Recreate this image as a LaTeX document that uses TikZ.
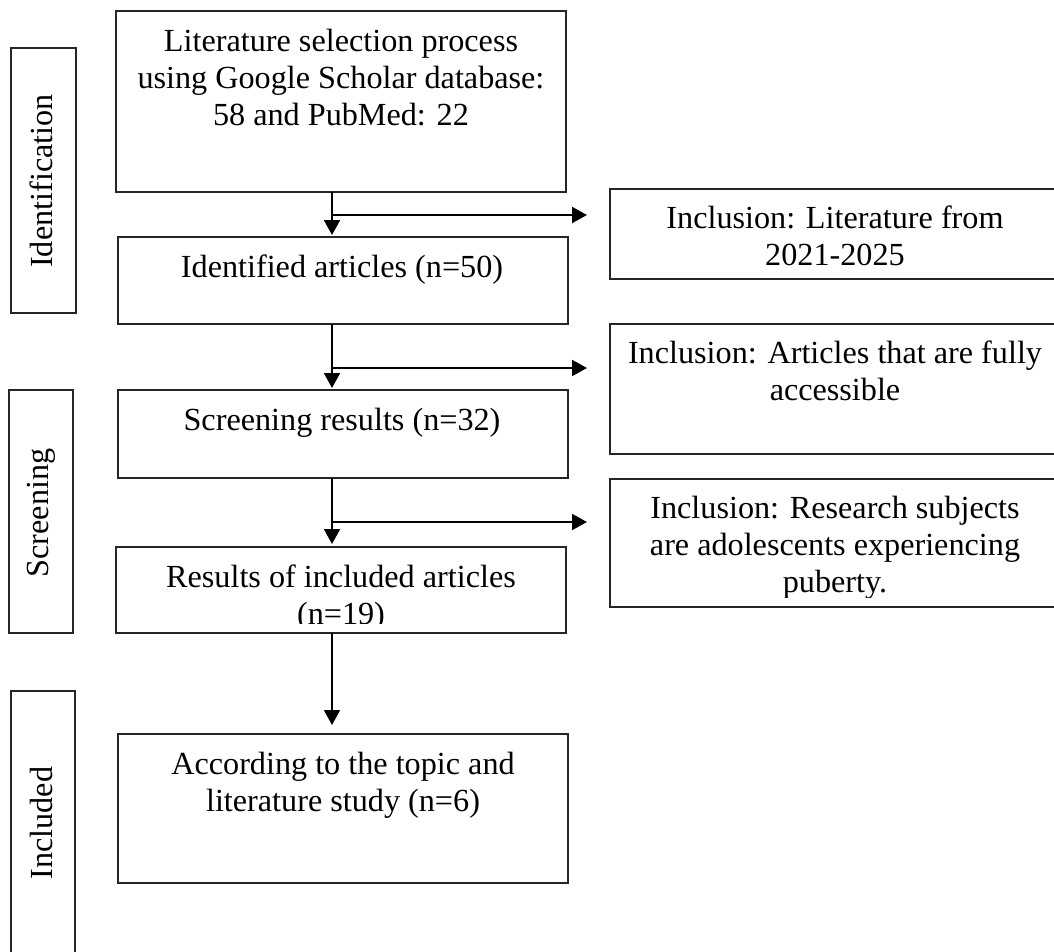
\documentclass[tikz,border=0pt]{standalone}
\usepackage{fontspec}
\setmainfont{Liberation Serif}
\usetikzlibrary{arrows.meta}
\begin{document}
\begin{tikzpicture}[x=1pt,y=-1pt,
  box/.style={draw=black!85, line width=1.3pt, inner sep=0pt, outer sep=0pt, anchor=north west},
  txt/.style={inner sep=0pt, anchor=base, font=\fontsize{32.2}{37}\selectfont},
  vlab/.style={txt, rotate=90},
  arr/.style={line width=2pt, -{Triangle[length=15pt,width=16pt]}}
]
\clip (0,0) rectangle (1054,952);
% stage boxes
\node[box, minimum width=65pt, minimum height=265pt] (sid) at (11,48) {};
\node[box, minimum width=64pt, minimum height=243pt] (ssc) at (9,390) {};
\node[box, minimum width=64pt, minimum height=265pt] (sin) at (11,691) {};
\node[vlab] (lid) at (52,181) {Identification};
\node[vlab] (lsc) at (48,513) {Screening};
\node[vlab] (lin) at (52,823) {Included};
% main boxes
\node[box, minimum width=450pt, minimum height=181pt] (b1) at (116,11) {};
\node[box, minimum width=450pt, minimum height=87pt] (b2) at (118,237) {};
\node[box, minimum width=450pt, minimum height=88pt] (b3) at (118,390) {};
\node[box, minimum width=450pt, minimum height=86pt] (b4) at (116,547) {};
\node[box, minimum width=450pt, minimum height=149pt] (b5) at (118,734) {};
% right boxes
\node[box, minimum width=450pt, minimum height=90pt] (r1) at (610,189) {};
\node[box, minimum width=450pt, minimum height=130pt] (r2) at (610,324) {};
\node[box, minimum width=450pt, minimum height=128pt] (r3) at (610,479) {};
% texts
\node[txt] (t1) at (341,52) {\parbox[t]{440pt}{\centering Literature selection process\\using Google Scholar database:\\58 and PubMed: 22}};
\node[txt] (t2) at (342,277) {\parbox[t]{440pt}{\centering Identified articles (n=50)}};
\node[txt] (t3) at (342,430) {\parbox[t]{440pt}{\centering Screening results (n=32)}};
\begin{scope}
\clip (b4.north west) rectangle ([yshift=10pt]b4.south east);
\node[txt] (t4) at (341,587) {\parbox[t]{440pt}{\centering Results of included articles\\(n=19)}};
\end{scope}
\node[txt] (t5) at (343,774) {\parbox[t]{440pt}{\centering According to the topic and\\literature study (n=6)}};
\node[txt] (u1) at (835,228) {\parbox[t]{440pt}{\centering Inclusion: Literature from\\2021-2025}};
\node[txt] (u2) at (835,363) {\parbox[t]{440pt}{\centering Inclusion: Articles that are fully\\accessible}};
\begin{scope}
\clip (r3.north west) rectangle ([yshift=10pt]r3.south east);
\node[txt] (u3) at (835,518) {\parbox[t]{440pt}{\centering Inclusion: Research subjects\\are adolescents experiencing\\puberty.}};
\end{scope}
% connectors
\coordinate (ax) at (332,0);
\coordinate (j1) at (332,215);
\coordinate (j2) at (332,368);
\coordinate (j3) at (332,522);
\draw[arr, shorten >=2pt] (b1.south -| ax) -- (b2.north -| ax);
\draw[arr, shorten >=2pt] (b2.south -| ax) -- (b3.north -| ax);
\draw[arr, shorten >=3pt] (b3.south -| ax) -- (b4.north -| ax);
\draw[arr, shorten >=9pt] (b4.south -| ax) -- (b5.north -| ax);
\draw[arr, shorten >=23pt] (j1) -- (j1 -| r1.west);
\draw[arr, shorten >=23pt] (j2) -- (j2 -| r2.west);
\draw[arr, shorten >=23pt] (j3) -- (j3 -| r3.west);
\end{tikzpicture}
\end{document}
